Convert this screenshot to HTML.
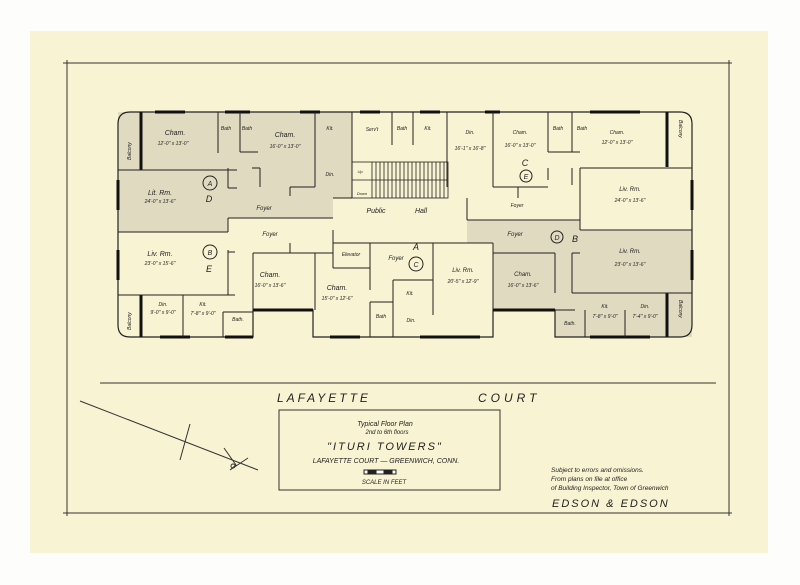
<!DOCTYPE html>
<html><head><meta charset="utf-8"><style>
html,body{margin:0;padding:0;background:#fff;}
svg{display:block;}
text{font-family:"Liberation Sans",sans-serif;font-style:italic;fill:#222;}
</style></head><body>
<svg width="800" height="585" viewBox="0 0 800 585" xmlns="http://www.w3.org/2000/svg">
<rect x="0" y="0" width="800" height="585" fill="#fdfdfb"/>
<rect x="30" y="31" width="738" height="522" fill="#f8f3d2"/>
<g stroke="#333" stroke-width="1" fill="none">
<line x1="63" y1="63" x2="732" y2="63"/>
<line x1="67" y1="60" x2="67" y2="516"/>
<line x1="729" y1="60" x2="729" y2="516"/>
<line x1="63" y1="513" x2="732" y2="513"/>
</g>
<g fill="#e0dbc0" stroke="none">
<polygon points="118,112 352,112 352,198 333,198 333,218 228,218 228,232 118,232"/>
<polygon points="467,220 580,220 580,230 692,230 692,337 555,337 555,310 493,310 493,243 467,243"/>
</g>
<g stroke="#222" stroke-width="1.2" fill="none">
<path d="M130,112 L680,112 Q692,112 692,124 L692,325 Q692,337 680,337 L555,337 L555,310 L493,310 L493,337 L313,337 L313,310 L253,310 L253,337 L130,337 Q118,337 118,325 L118,124 Q118,112 130,112 Z"/>
</g>
<g stroke="#111" stroke-width="3" fill="none">
<line x1="141" y1="112" x2="141" y2="170"/>
<line x1="141" y1="295" x2="141" y2="337"/>
<line x1="667" y1="112" x2="667" y2="167"/>
<line x1="667" y1="293" x2="667" y2="337"/>
<line x1="155" y1="112" x2="185" y2="112"/><line x1="225" y1="112" x2="250" y2="112"/><line x1="300" y1="112" x2="320" y2="112"/>
<line x1="360" y1="112" x2="380" y2="112"/><line x1="420" y1="112" x2="440" y2="112"/><line x1="485" y1="112" x2="500" y2="112"/>
<line x1="590" y1="112" x2="640" y2="112"/>
<line x1="160" y1="337" x2="190" y2="337"/><line x1="225" y1="337" x2="253" y2="337"/><line x1="253" y1="310" x2="313" y2="310"/>
<line x1="330" y1="337" x2="360" y2="337"/><line x1="420" y1="337" x2="480" y2="337"/><line x1="493" y1="310" x2="555" y2="310"/>
<line x1="590" y1="337" x2="650" y2="337"/>
<line x1="118" y1="180" x2="118" y2="210"/><line x1="118" y1="250" x2="118" y2="280"/>
<line x1="692" y1="180" x2="692" y2="210"/><line x1="692" y1="250" x2="692" y2="280"/>
</g>
<g stroke="#222" stroke-width="1" fill="none">
<line x1="118" y1="170" x2="237" y2="170"/>
<line x1="218" y1="112" x2="218" y2="153"/>
<line x1="240" y1="112" x2="240" y2="152"/><line x1="240" y1="152" x2="258" y2="152"/>
<line x1="260" y1="168" x2="260" y2="187"/><line x1="252" y1="168" x2="260" y2="168"/>
<line x1="315" y1="112" x2="315" y2="187"/><line x1="290" y1="187" x2="315" y2="187"/><line x1="290" y1="187" x2="290" y2="196"/>
<line x1="352" y1="112" x2="352" y2="198"/><line x1="333" y1="198" x2="352" y2="198"/>
<line x1="228" y1="168" x2="228" y2="188"/><line x1="228" y1="188" x2="237" y2="188"/>
<line x1="228" y1="218" x2="333" y2="218"/><line x1="228" y1="218" x2="228" y2="232"/>
<line x1="118" y1="232" x2="228" y2="232"/>
<line x1="228" y1="250" x2="228" y2="295"/><line x1="228" y1="252" x2="235" y2="252"/>
<line x1="118" y1="295" x2="235" y2="295"/>
<line x1="183" y1="295" x2="183" y2="337"/>
<line x1="223" y1="312" x2="223" y2="337"/><line x1="223" y1="312" x2="253" y2="312"/>
<line x1="253" y1="253" x2="253" y2="310"/><line x1="253" y1="253" x2="333" y2="253"/><line x1="290" y1="243" x2="290" y2="253"/>
<line x1="315" y1="253" x2="315" y2="310"/>
<line x1="333" y1="243" x2="370" y2="243"/><line x1="333" y1="243" x2="333" y2="268"/><line x1="333" y1="268" x2="370" y2="268"/>
<line x1="370" y1="243" x2="370" y2="290"/><line x1="370" y1="243" x2="433" y2="243"/>
<line x1="370" y1="302" x2="393" y2="302"/><line x1="370" y1="302" x2="370" y2="337"/>
<line x1="393" y1="280" x2="393" y2="337"/><line x1="393" y1="280" x2="433" y2="280"/>
<line x1="433" y1="243" x2="433" y2="315"/>
<line x1="333" y1="230" x2="333" y2="243"/>
<line x1="392" y1="112" x2="392" y2="145"/><line x1="413" y1="112" x2="413" y2="145"/>
<line x1="447" y1="112" x2="447" y2="187"/>
<line x1="493" y1="112" x2="493" y2="187"/><line x1="493" y1="187" x2="548" y2="187"/><line x1="518" y1="187" x2="518" y2="198"/>
<line x1="548" y1="112" x2="548" y2="152"/><line x1="572" y1="112" x2="572" y2="152"/><line x1="548" y1="152" x2="580" y2="152"/>
<line x1="548" y1="168" x2="548" y2="180"/><line x1="572" y1="168" x2="572" y2="185"/>
<line x1="580" y1="168" x2="692" y2="168"/><line x1="580" y1="168" x2="580" y2="230"/>
<line x1="467" y1="198" x2="467" y2="220"/><line x1="467" y1="220" x2="580" y2="220"/>
<line x1="580" y1="230" x2="692" y2="230"/>
<line x1="433" y1="243" x2="493" y2="243"/><line x1="493" y1="243" x2="493" y2="310"/>
<line x1="493" y1="253" x2="555" y2="253"/><line x1="555" y1="253" x2="555" y2="293"/>
<line x1="572" y1="253" x2="572" y2="293"/><line x1="572" y1="293" x2="692" y2="293"/><line x1="572" y1="253" x2="580" y2="253"/>
<line x1="585" y1="310" x2="585" y2="337"/><line x1="625" y1="310" x2="625" y2="337"/>
<line x1="555" y1="310" x2="575" y2="310"/>
</g>
<g stroke="#222" stroke-width="0.8">
<rect x="352" y="162" width="96" height="36" fill="none"/>
<line x1="352" y1="180" x2="448" y2="180"/>
<line x1="372" y1="162" x2="372" y2="198"/><line x1="376" y1="162" x2="376" y2="198"/><line x1="380" y1="162" x2="380" y2="198"/><line x1="384" y1="162" x2="384" y2="198"/><line x1="388" y1="162" x2="388" y2="198"/><line x1="392" y1="162" x2="392" y2="198"/><line x1="396" y1="162" x2="396" y2="198"/><line x1="400" y1="162" x2="400" y2="198"/><line x1="404" y1="162" x2="404" y2="198"/><line x1="408" y1="162" x2="408" y2="198"/><line x1="412" y1="162" x2="412" y2="198"/><line x1="416" y1="162" x2="416" y2="198"/><line x1="420" y1="162" x2="420" y2="198"/><line x1="424" y1="162" x2="424" y2="198"/><line x1="428" y1="162" x2="428" y2="198"/><line x1="432" y1="162" x2="432" y2="198"/><line x1="436" y1="162" x2="436" y2="198"/><line x1="440" y1="162" x2="440" y2="198"/><line x1="444" y1="162" x2="444" y2="198"/>
</g>
<g stroke="#222" stroke-width="1" fill="none">
<circle cx="210" cy="183" r="7"/><circle cx="210" cy="252" r="7"/><circle cx="416" cy="264" r="7"/>
<circle cx="557" cy="237" r="6"/><circle cx="526" cy="176" r="6"/>
</g>
<g font-size="7" text-anchor="middle">
<text x="210" y="186">A</text><text x="210" y="255">B</text><text x="416" y="267">C</text><text x="557" y="240">D</text><text x="526" y="179">E</text>
</g>
<g font-size="9" text-anchor="middle" style="font-style:normal">
<text x="209" y="202" fill="#999">D</text><text x="209" y="272" fill="#999">E</text><text x="416" y="250" fill="#999">A</text><text x="575" y="242" fill="#999">B</text><text x="525" y="166" fill="#999">C</text>
</g>
<g font-size="6" text-anchor="middle">
<text x="175" y="135" font-size="7">Cham.</text><text x="173" y="145" font-size="5">12'-0" x 13'-0"</text>
<text x="226" y="130" font-size="5">Bath</text><text x="247" y="130" font-size="5">Bath</text>
<text x="285" y="137" font-size="7">Cham.</text><text x="285" y="148" font-size="5">16'-0" x 13'-0"</text>
<text x="330" y="130" font-size="5">Kit.</text><text x="330" y="176" font-size="5">Din.</text>
<text x="160" y="195" font-size="7">Lit. Rm.</text><text x="160" y="203" font-size="5">24'-0" x 13'-6"</text>
<text x="264" y="210">Foyer</text><text x="270" y="236">Foyer</text>
<text x="160" y="256" font-size="7">Liv. Rm.</text><text x="160" y="265" font-size="5">23'-0" x 15'-6"</text>
<text x="270" y="277" font-size="7">Cham.</text><text x="270" y="287" font-size="5">16'-0" x 13'-6"</text>
<text x="337" y="290" font-size="7">Cham.</text><text x="337" y="300" font-size="5">15'-0" x 12'-6"</text>
<text x="351" y="256" font-size="5">Elevator</text>
<text x="396" y="260">Foyer</text>
<text x="410" y="295" font-size="5">Kit.</text><text x="411" y="322" font-size="5">Din.</text>
<text x="381" y="318" font-size="5">Bath</text>
<text x="163" y="306" font-size="5">Din.</text><text x="163" y="314" font-size="5">9'-0" x 9'-0"</text>
<text x="203" y="306" font-size="5">Kit.</text><text x="203" y="315" font-size="5">7'-8" x 9'-0"</text>
<text x="238" y="321" font-size="5">Bath.</text>
<text x="372" y="131" font-size="5">Serv't</text><text x="402" y="130" font-size="5">Bath</text><text x="428" y="130" font-size="5">Kit.</text>
<text x="470" y="134" font-size="5">Din.</text><text x="470" y="150" font-size="5">16'-1" x 16'-8"</text>
<text x="520" y="134" font-size="5">Cham.</text><text x="520" y="147" font-size="5">16'-0" x 13'-0"</text>
<text x="558" y="130" font-size="5">Bath</text><text x="582" y="130" font-size="5">Bath</text>
<text x="617" y="134" font-size="5">Cham.</text><text x="617" y="144" font-size="5">12'-0" x 13'-0"</text>
<text x="360" y="173" font-size="4">Up</text><text x="362" y="195" font-size="4">Down</text>
<text x="376" y="213" font-size="7">Public</text><text x="421" y="213" font-size="7">Hall</text>
<text x="517" y="207" font-size="5">Foyer</text>
<text x="630" y="191" font-size="6">Liv. Rm.</text><text x="630" y="202" font-size="5">24'-0" x 13'-6"</text>
<text x="515" y="236" font-size="6">Foyer</text>
<text x="630" y="253" font-size="6">Liv. Rm.</text><text x="630" y="266" font-size="5">23'-0" x 13'-6"</text>
<text x="463" y="272" font-size="6">Liv. Rm.</text><text x="463" y="283" font-size="5">20'-5" x 12'-9"</text>
<text x="523" y="276" font-size="6">Cham.</text><text x="523" y="287" font-size="5">16'-0" x 13'-6"</text>
<text x="570" y="325" font-size="5">Bath.</text>
<text x="605" y="308" font-size="5">Kit.</text><text x="605" y="318" font-size="5">7'-8" x 9'-0"</text>
<text x="645" y="308" font-size="5">Din.</text><text x="645" y="318" font-size="5">7'-4" x 9'-0"</text>
</g>
<g font-size="5">
<text transform="translate(131,160) rotate(-90)">Balcony</text>
<text transform="translate(131,330) rotate(-90)">Balcony</text>
<text transform="translate(679,120) rotate(90)">Balcony</text>
<text transform="translate(679,300) rotate(90)">Balcony</text>
</g>
<line x1="100" y1="383" x2="716" y2="383" stroke="#333" stroke-width="1"/>
<text x="277" y="402" font-size="12" style="letter-spacing:3px">LAFAYETTE</text>
<text x="478" y="402" font-size="12" style="letter-spacing:4px">COURT</text>
<g stroke="#333" stroke-width="1" fill="none">
<line x1="80" y1="401" x2="258" y2="470"/>
<line x1="190" y1="424" x2="180" y2="460"/>
<polyline points="224,448 236,465 230,470 248,458"/>
<circle cx="233" cy="466" r="2"/>
</g>
<rect x="279" y="410" width="221" height="80" fill="none" stroke="#333" stroke-width="1"/>
<g text-anchor="middle">
<text x="385" y="426" font-size="7">Typical Floor Plan</text>
<text x="387" y="434" font-size="6">2nd to 6th floors</text>
<text x="385" y="450" font-size="11" style="letter-spacing:2px">"ITURI TOWERS"</text>
<text x="386" y="463" font-size="7">LAFAYETTE COURT — GREENWICH, CONN.</text>
<text x="384" y="484" font-size="6">SCALE IN FEET</text>
</g>
<g stroke="#222" stroke-width="1">
<rect x="364" y="470" width="32" height="4" fill="#fff"/>
<rect x="368" y="470" width="8" height="4" fill="#222"/><rect x="384" y="470" width="8" height="4" fill="#222"/>
</g>
<g font-size="6.5">
<text x="551" y="472">Subject to errors and omissions.</text>
<text x="551" y="481">From plans on file at office</text>
<text x="551" y="490">of Building Inspector, Town of Greenwich</text>
</g>
<text x="552" y="507" font-size="11" style="letter-spacing:2px">EDSON &amp; EDSON</text>
</svg>
</body></html>
